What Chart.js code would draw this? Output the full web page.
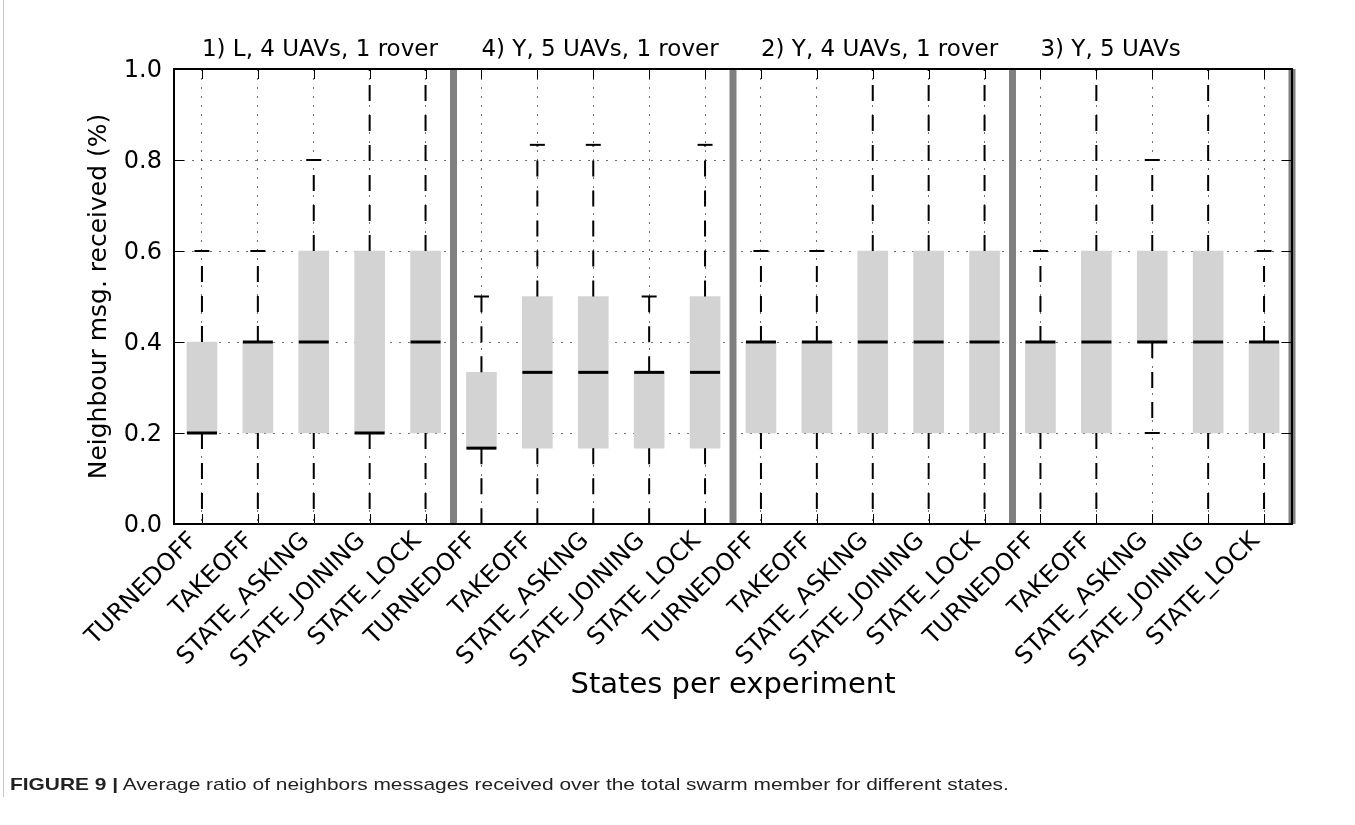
<!DOCTYPE html>
<html>
<head>
<meta charset="utf-8">
<script src="https://cdn.jsdelivr.net/npm/chart.js@4.4.0/dist/chart.umd.min.js"></script>
<style>
  html, body { margin: 0; padding: 0; background: #fff; }
  #wrap { position: relative; width: 1355px; height: 825px; overflow: hidden; }
  #frame { position: absolute; left: 3px; top: 0; width: 1px; height: 797px; background: #c8c8c8; }
  #caption { position: absolute; left: 10px; top: 775px; font-family: "Liberation Sans", Arial, sans-serif;
             font-size: 17px; color: #222; white-space: nowrap; transform: scaleX(1.23); transform-origin: left top; }
</style>
</head>
<body>
<div id="wrap">
  <canvas id="chart" width="1355" height="825"></canvas>
  <div id="frame"></div>
  <div id="caption"><b>FIGURE 9 |</b> Average ratio of neighbors messages received over the total swarm member for different states.</div>
</div>
<script>
const states = ['TURNEDOFF', 'TAKEOFF', 'STATE_ASKING', 'STATE_JOINING', 'STATE_LOCK'];
const experiments = ['1) L, 4 UAVs, 1 rover', '4) Y, 5 UAVs, 1 rover', '2) Y, 4 UAVs, 1 rover', '3) Y, 5 UAVs'];
const labels = experiments.flatMap(() => states);

// box statistics, 5 states per experiment
const q1 = [0.2, 0.2, 0.2, 0.2, 0.2,
            0.1667, 0.1667, 0.1667, 0.1667, 0.1667,
            0.2, 0.2, 0.2, 0.2, 0.2,
            0.2, 0.2, 0.4, 0.2, 0.2];
const q3 = [0.4, 0.4, 0.6, 0.6, 0.6,
            0.3333, 0.5, 0.5, 0.3333, 0.5,
            0.4, 0.4, 0.6, 0.6, 0.6,
            0.4, 0.6, 0.6, 0.6, 0.4];
const medians = [0.2, 0.4, 0.4, 0.2, 0.4,
                 0.1667, 0.3333, 0.3333, 0.3333, 0.3333,
                 0.4, 0.4, 0.4, 0.4, 0.4,
                 0.4, 0.4, 0.4, 0.4, 0.4];
const whiskerLow = [0, 0, 0, 0, 0,
                    0, 0, 0, 0, 0,
                    0, 0, 0, 0, 0,
                    0, 0, 0.2, 0, 0];
const whiskerHigh = [0.6, 0.6, 0.8, 1.0, 1.0,
                     0.5, 0.8333, 0.8333, 0.5, 0.8333,
                     0.6, 0.6, 1.0, 1.0, 1.0,
                     0.6, 1.0, 0.8, 1.0, 0.6];
const yTicks = [0, 0.2, 0.4, 0.6, 0.8, 1.0];

const BOX_W = 30;

// whiskers, medians, caps, group separators, frame and inward ticks (matplotlib look)
const boxExtras = {
  id: 'boxExtras',
  afterDraw(chart) {
    const ctx = chart.ctx;
    const x = chart.scales.x, y = chart.scales.y;
    const area = chart.chartArea;
    ctx.save();

    labels.forEach((_, i) => {
      const cx = x.getPixelForValue(i);
      // whiskers
      ctx.strokeStyle = '#000';
      ctx.lineWidth = 2;
      ctx.setLineDash([16, 14]);
      ctx.beginPath();
      ctx.moveTo(cx, y.getPixelForValue(q3[i]));
      ctx.lineTo(cx, y.getPixelForValue(whiskerHigh[i]));
      ctx.stroke();
      ctx.beginPath();
      ctx.moveTo(cx, y.getPixelForValue(q1[i]));
      ctx.lineTo(cx, y.getPixelForValue(whiskerLow[i]));
      ctx.stroke();
      ctx.setLineDash([]);
      // caps
      [whiskerLow[i], whiskerHigh[i]].forEach(v => {
        const py = y.getPixelForValue(v);
        ctx.beginPath();
        ctx.moveTo(cx - BOX_W / 4, py);
        ctx.lineTo(cx + BOX_W / 4, py);
        ctx.stroke();
      });
      // median
      ctx.lineWidth = 3;
      const my = y.getPixelForValue(medians[i]);
      ctx.beginPath();
      ctx.moveTo(cx - BOX_W / 2, my);
      ctx.lineTo(cx + BOX_W / 2, my);
      ctx.stroke();
    });

    // separators between experiments
    const step = x.getPixelForValue(1) - x.getPixelForValue(0);
    ctx.strokeStyle = '#808080';
    ctx.lineWidth = 7;
    [4, 9, 14, 19].forEach(i => {
      const px = x.getPixelForValue(i) + step / 2;
      ctx.beginPath();
      ctx.moveTo(px, area.top);
      ctx.lineTo(px, area.bottom);
      ctx.stroke();
    });

    // frame
    ctx.strokeStyle = '#000';
    ctx.lineWidth = 2;
    ctx.strokeRect(area.left, area.top, area.right - area.left, area.bottom - area.top);

    // inward ticks
    ctx.lineWidth = 1;
    ctx.beginPath();
    yTicks.forEach(v => {
      const py = Math.round(y.getPixelForValue(v)) + 0.5;
      ctx.moveTo(area.left, py); ctx.lineTo(area.left + 10, py);
      ctx.moveTo(area.right, py); ctx.lineTo(area.right - 10, py);
    });
    labels.forEach((_, i) => {
      const px = Math.round(x.getPixelForValue(i)) + 0.5;
      ctx.moveTo(px, area.top); ctx.lineTo(px, area.top + 10);
      ctx.moveTo(px, area.bottom); ctx.lineTo(px, area.bottom - 10);
    });
    ctx.stroke();

    // experiment titles
    ctx.fillStyle = '#000';
    ctx.font = '23px "DejaVu Sans"';
    ctx.textAlign = 'left';
    ctx.textBaseline = 'alphabetic';
    experiments.forEach((t, g) => {
      ctx.fillText(t, x.getPixelForValue(g * 5), area.top - 13);
    });
    ctx.restore();
  }
};

Chart.defaults.font.family = '"DejaVu Sans", sans-serif';
Chart.defaults.color = '#000';

new Chart(document.getElementById('chart'), {
  type: 'bar',
  data: {
    labels: labels,
    datasets: [{
      data: labels.map((_, i) => [q1[i], q3[i]]),
      backgroundColor: '#d3d3d3',
      borderWidth: 0,
      barThickness: BOX_W
    }]
  },
  options: {
    responsive: false,
    animation: false,
    layout: { padding: { left: 80, right: 63, top: 69, bottom: 118 } },
    plugins: { legend: { display: false }, tooltip: { enabled: false } },
    scales: {
      x: {
        z: 1,
        grid: { offset: false, color: 'rgba(0,0,0,0.55)', lineWidth: 1, drawTicks: false },
        border: { display: false, dash: [2, 7] },
        ticks: { autoSkip: false, maxRotation: 45, minRotation: 45, padding: 3, labelOffset: -8, font: { size: 24 } },
        title: { display: true, text: 'States per experiment', font: { size: 29 }, padding: 4 },
        afterFit(scale) { scale.height = 183; }
      },
      y: {
        z: 1,
        min: 0,
        max: 1,
        grid: { color: 'rgba(0,0,0,0.55)', lineWidth: 1, drawTicks: false },
        border: { display: false, dash: [2, 7] },
        ticks: { stepSize: 0.2, padding: 12, labelOffset: 2, font: { size: 24 }, callback: v => v.toFixed(1) },
        title: { display: true, text: 'Neighbour msg. received (%)', font: { size: 25 }, padding: 4 },
        afterFit(scale) { scale.width = 94; }
      }
    }
  },
  plugins: [boxExtras]
});
</script>
</body>
</html>
